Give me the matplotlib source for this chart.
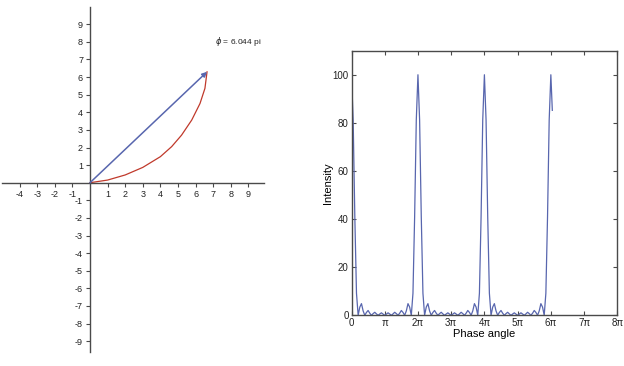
import numpy as np
import matplotlib
matplotlib.use("Agg")
import matplotlib.pyplot as plt

plt.rcParams['font.family'] = ['Liberation Sans', 'DejaVu Sans']

# ---- data: phasor diagram (left) ----
chain_x = [0, 1.0, 2.0, 3.0, 4.0, 4.64, 5.2, 5.78, 6.25, 6.53, 6.65]
chain_y = [0, 0.15, 0.44, 0.87, 1.48, 2.05, 2.7, 3.56, 4.5, 5.36, 6.3]
resultant = (6.65, 6.3)
phi_label = r"$\phi$ = 6.044 pi"
left_xticks = [-4, -3, -2, -1, 1, 2, 3, 4, 5, 6, 7, 8, 9]
left_yticks = [-9, -8, -7, -6, -5, -4, -3, -2, -1, 1, 2, 3, 4, 5, 6, 7, 8, 9]

# ---- data: intensity vs phase (right), phase in units of pi ----
phase_pi = [round(0.05 * i, 3) for i in range(121)] + [6.044]
intensity = [
    100, 81.2, 40.9, 9.17, 0, 3.41, 4.85, 1.83, 0, 1.19, 2.0, 0.87, 0, 0.69, 1.26, 0.59, 0, 0.53, 1.03, 0.50,
    0, 0.50, 1.03, 0.53, 0, 0.59, 1.26, 0.69, 0, 0.87, 2.0, 1.19, 0, 1.83, 4.85, 3.41, 0, 9.17, 40.9, 81.2,
    100, 81.2, 40.9, 9.17, 0, 3.41, 4.85, 1.83, 0, 1.19, 2.0, 0.87, 0, 0.69, 1.26, 0.59, 0, 0.53, 1.03, 0.50,
    0, 0.50, 1.03, 0.53, 0, 0.59, 1.26, 0.69, 0, 0.87, 2.0, 1.19, 0, 1.83, 4.85, 3.41, 0, 9.17, 40.9, 81.2,
    100, 81.2, 40.9, 9.17, 0, 3.41, 4.85, 1.83, 0, 1.19, 2.0, 0.87, 0, 0.69, 1.26, 0.59, 0, 0.53, 1.03, 0.50,
    0, 0.50, 1.03, 0.53, 0, 0.59, 1.26, 0.69, 0, 0.87, 2.0, 1.19, 0, 1.83, 4.85, 3.41, 0, 9.17, 40.9, 81.2,
    100, 85.2,
]
right_xtick_labels = ["0", "π", "2π", "3π", "4π", "5π", "6π", "7π", "8π"]
right_yticks = [0, 20, 40, 60, 80, 100]

blue = "#5866ae"
red = "#c0392b"
axis_col = "#4a4a4a"

fig = plt.figure(figsize=(6.24, 3.66), dpi=100)

# ---------- left: phasor diagram ----------
axL = fig.add_axes([2 / 624, 7.3 / 366, 264 / 624, 352 / 366])
axL.set_xlim(-5, 10)
axL.set_ylim(-10, 10)
axL.set_aspect('equal', adjustable='box')
for s in ['top', 'right']:
    axL.spines[s].set_visible(False)
axL.spines['left'].set_position(('data', 0))
axL.spines['bottom'].set_position(('data', 0))
axL.spines['left'].set_bounds(-9.6, 10)
axL.spines['bottom'].set_bounds(-5, 9.9)
for s in ['left', 'bottom']:
    axL.spines[s].set_color(axis_col)
    axL.spines[s].set_linewidth(1.0)
axL.set_xticks(left_xticks)
axL.set_yticks(left_yticks)
axL.set_xticklabels([str(v) for v in left_xticks])
axL.set_yticklabels([str(v) for v in left_yticks])
axL.tick_params(axis='both', direction='out', length=3, width=0.8, color=axis_col,
                labelsize=6.5, pad=2, labelcolor='#222222')
axL.patch.set_alpha(0)

axL.plot(chain_x, chain_y, color=red, lw=0.9)
axL.annotate('', xy=resultant, xytext=(0, 0),
             arrowprops=dict(arrowstyle='-|>', color=blue, lw=1.1,
                             mutation_scale=7, shrinkA=0, shrinkB=0))
axL.text(7.1, 8.05, phi_label, fontsize=6, va='center', ha='left', color='#222222')

# ---------- right: intensity ----------
axR = fig.add_axes([351.5 / 624, (366 - 315.3) / 366, 265.8 / 624, (315.3 - 50.7) / 366])
axR.plot(np.array(phase_pi) * np.pi, intensity, color=blue, lw=0.9)
axR.set_xlim(0, 8 * np.pi)
axR.set_ylim(0, 110)
axR.set_xticks([k * np.pi for k in range(9)])
axR.set_xticklabels(right_xtick_labels)
axR.set_yticks(right_yticks)
axR.tick_params(axis='both', direction='in', length=3, width=0.8, color=axis_col,
                labelsize=7, top=True, right=True, pad=2, labelcolor='#222222')
for s in axR.spines.values():
    s.set_color(axis_col)
    s.set_linewidth(1.0)
axR.set_xlabel("Phase angle", fontsize=8, labelpad=1)
axR.set_ylabel("Intensity", fontsize=8, labelpad=0)

fig.savefig("out.png", dpi=100)
